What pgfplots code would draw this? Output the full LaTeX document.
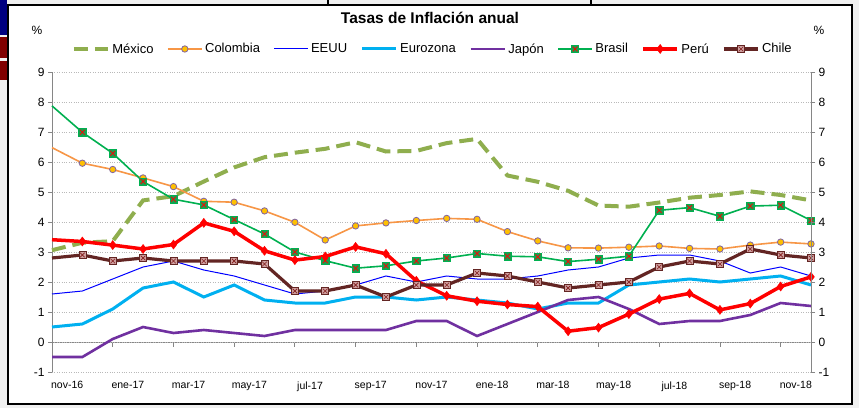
\documentclass[border=0pt]{standalone}
\usepackage{fontspec}
\setmainfont{Liberation Sans}
\usepackage{pgfplots}
\usepackage{pgfplotstable}
\pgfplotsset{compat=1.18}
\definecolor{mex}{HTML}{8FAE4E}
\definecolor{col}{HTML}{F79646}
\definecolor{colfill}{HTML}{FFC000}
\definecolor{coledge}{HTML}{8064A2}
\definecolor{usa}{HTML}{0000FF}
\definecolor{euro}{HTML}{00B0F0}
\definecolor{jap}{HTML}{7030A0}
\definecolor{bra}{HTML}{00B050}
\definecolor{brafill}{HTML}{1E9B4F}
\definecolor{peru}{HTML}{FF0000}
\definecolor{chi}{HTML}{632523}
\definecolor{chifill}{HTML}{CFA0A0}
\definecolor{axgray}{HTML}{868686}
\definecolor{bgray}{HTML}{F0F0F0}
\definecolor{navyb}{HTML}{000080}
\definecolor{darkr}{HTML}{800000}

\pgfdeclareplotmark{brasq}{%
  \pgfpathrectangle{\pgfpoint{-3.6pt}{-3.6pt}}{\pgfpoint{7.2pt}{7.2pt}}%
  \pgfsetfillcolor{brafill}\pgfsetstrokecolor{bra}\pgfsetlinewidth{0.6pt}\pgfusepath{fill,stroke}%
  \pgfsetstrokecolor{red}\pgfsetlinewidth{0.7pt}%
  \pgfpathmoveto{\pgfpoint{-2.4pt}{-2.4pt}}\pgfpathlineto{\pgfpoint{2.4pt}{2.4pt}}%
  \pgfpathmoveto{\pgfpoint{-2.4pt}{2.4pt}}\pgfpathlineto{\pgfpoint{2.4pt}{-2.4pt}}%
  \pgfusepath{stroke}}
\pgfdeclareplotmark{chisq}{%
  \pgfpathrectangle{\pgfpoint{-3.5pt}{-3.5pt}}{\pgfpoint{7pt}{7pt}}%
  \pgfsetfillcolor{chifill}\pgfsetstrokecolor{chi}\pgfsetlinewidth{0.6pt}\pgfusepath{fill,stroke}%
  \pgfsetstrokecolor{chi!80!red}\pgfsetlinewidth{0.6pt}%
  \pgfpathmoveto{\pgfpoint{-2.3pt}{-2.3pt}}\pgfpathlineto{\pgfpoint{2.3pt}{2.3pt}}%
  \pgfpathmoveto{\pgfpoint{-2.3pt}{2.3pt}}\pgfpathlineto{\pgfpoint{2.3pt}{-2.3pt}}%
  \pgfusepath{stroke}}

\pgfplotstableread{
x mex col usa euro jap bra peru chi
0 3.06 6.48 1.6 0.5 -0.5 7.87 3.41 2.8
1 3.31 5.96 1.7 0.6 -0.5 6.99 3.35 2.9
2 3.36 5.75 2.1 1.1 0.1 6.29 3.23 2.7
3 4.72 5.47 2.5 1.8 0.5 5.35 3.10 2.8
4 4.86 5.18 2.7 2.0 0.3 4.76 3.25 2.7
5 5.35 4.69 2.4 1.5 0.4 4.57 3.97 2.7
6 5.82 4.66 2.2 1.9 0.3 4.08 3.69 2.7
7 6.16 4.37 1.9 1.4 0.2 3.60 3.04 2.6
8 6.31 3.99 1.6 1.3 0.4 3.00 2.73 1.7
9 6.44 3.40 1.7 1.3 0.4 2.71 2.85 1.7
10 6.66 3.87 1.9 1.5 0.4 2.46 3.17 1.9
11 6.35 3.97 2.2 1.5 0.4 2.54 2.94 1.5
12 6.37 4.05 2.0 1.4 0.7 2.70 2.04 1.9
13 6.63 4.12 2.2 1.5 0.7 2.80 1.54 1.9
14 6.77 4.09 2.1 1.4 0.2 2.95 1.36 2.3
15 5.55 3.68 2.1 1.3 0.6 2.86 1.25 2.2
16 5.34 3.37 2.2 1.1 1.0 2.84 1.18 2.0
17 5.04 3.14 2.4 1.3 1.4 2.68 0.36 1.8
18 4.55 3.13 2.5 1.3 1.5 2.76 0.48 1.9
19 4.51 3.16 2.8 1.9 1.1 2.86 0.93 2.0
20 4.65 3.20 2.9 2.0 0.6 4.39 1.43 2.5
21 4.81 3.12 2.9 2.1 0.7 4.48 1.62 2.7
22 4.90 3.10 2.7 2.0 0.7 4.19 1.07 2.6
23 5.02 3.23 2.3 2.1 0.9 4.53 1.28 3.1
24 4.90 3.33 2.5 2.2 1.3 4.56 1.85 2.9
25 4.72 3.27 2.2 1.9 1.2 4.05 2.17 2.8
}\datatable

\pgfplotsset{
  common/.style={
    scale only axis, width=759pt, height=300pt,
    at={(52pt,36pt)}, anchor=south west,
    xmin=0, xmax=25, ymin=-1, ymax=9,
    ytick={-1,0,...,9}, yticklabels={-1,0,1,2,3,4,5,6,7,8,9},
    tick align=outside, major tick length=4pt,
    y tick style={axgray, line width=0.8pt},
    y axis line style={axgray, line width=0.8pt, -},
    yticklabel style={font=\fontsize{12}{13}\selectfont, text=black},
  },
}

\begin{document}
\begin{tikzpicture}
\begin{scope}[x=1pt,y=1pt]
\useasboundingbox (0,0) rectangle (859,408);
\fill[bgray] (0,0) rectangle (859,408);
\fill[navyb] (0,373) rectangle (7,408);
\fill[darkr] (0,350) rectangle (7,371);
\fill[darkr] (0,328) rectangle (7,347);
\draw[black, line width=2.5pt] (328,403) -- (328,408);
\draw[black, line width=2.5pt] (591,403) -- (591,408);
\fill[white] (8,4) rectangle (852,403);
\draw[black, line width=2.5pt] (8,4) rectangle (852,403);
\draw[axgray, line width=0.8pt] (52,66) -- (811,66);
\foreach \i in {2,4,...,24} \draw[axgray, line width=0.8pt] ({52+30.36*\i},66) -- ++(0,-5);
\node[font=\bfseries\fontsize{15.5}{17}\selectfont] at (430,390) {Tasas de Inflación anual};
\node[font=\fontsize{12}{13}\selectfont] at (37,378) {\%};
\node[font=\fontsize{12}{13}\selectfont] at (819,378) {\%};
\end{scope}

\begin{axis}[common,
  axis y line*=left, axis x line*=bottom,
  x axis line style={draw=none},
  x tick style={draw=none},
  xtick={0.5,2.5,4.5,6.5,8.5,10.5,12.5,14.5,16.5,18.5,20.5,22.5,24.5},
  xticklabels={nov-16,ene-17,mar-17,may-17,jul-17,sep-17,nov-17,ene-18,mar-18,may-18,jul-18,sep-18,nov-18},
  xticklabel style={font=\fontsize{10.5}{12}\selectfont, yshift=-2pt},
  ymajorgrids, major grid style={gray!55, dotted, line width=0.7pt},
  clip=false,
  legend columns=8,
  legend style={at={(0.5007,1.0767)}, anchor=center, draw=none, fill=none,
    font=\fontsize{13}{14}\selectfont, inner sep=0pt,
    nodes={inner sep=0.5pt},
    /tikz/every odd column/.append style={column sep=2pt},
    /tikz/every even column/.append style={column sep=13pt}},
  legend image code/.code={
    \draw[#1, mark=none] (0pt,0pt) -- (34pt,0pt);
    \draw[#1, mark phase=1, mark repeat=1] plot coordinates {(17pt,0pt)};
  },
]
\addplot[mex, line width=4pt, dash pattern=on 14pt off 7pt, mark=none] table[x=x,y=mex] {\datatable};
\addlegendentry{México}
\addplot[col, line width=1.6pt, mark=*, mark size=3.2pt, mark phase=2, mark repeat=1,
  mark options={solid, fill=colfill, draw=coledge, line width=0.8pt}] table[x=x,y=col] {\datatable};
\addlegendentry{Colombia}
\addplot[usa, line width=1pt, mark=none] table[x=x,y=usa] {\datatable};
\addlegendentry{EEUU}
\addplot[euro, line width=3pt, mark=none] table[x=x,y=euro] {\datatable};
\addlegendentry{Eurozona}
\addplot[jap, line width=2.6pt, mark=none] table[x=x,y=jap] {\datatable};
\addlegendentry{Japón}
\addplot[bra, line width=1.6pt, mark=brasq, mark phase=2, mark repeat=1, mark options={solid}] table[x=x,y=bra] {\datatable};
\addlegendentry{Brasil}
\addplot[peru, line width=3.5pt, mark=diamond*, mark size=4.5pt, mark phase=2, mark repeat=1,
  mark options={solid, fill=peru, draw=peru, line width=0.5pt}] table[x=x,y=peru] {\datatable};
\addlegendentry{Perú}
\addplot[chi, line width=3.2pt, mark=chisq, mark phase=2, mark repeat=1, mark options={solid}] table[x=x,y=chi] {\datatable};
\addlegendentry{Chile}
\end{axis}

\begin{axis}[common,
  axis y line*=right, axis x line=none,
]
\addplot[draw=none, mark=none, forget plot] coordinates {(0,0)};
\end{axis}
\end{tikzpicture}
\end{document}
